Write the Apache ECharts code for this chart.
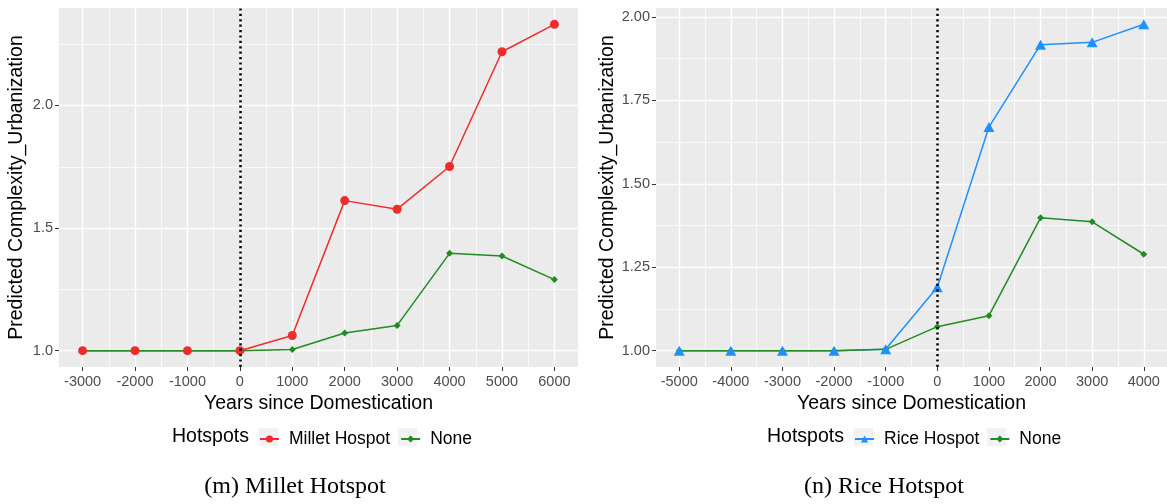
<!DOCTYPE html>
<html>
<head>
<meta charset="utf-8">
<script src="https://cdn.jsdelivr.net/npm/echarts@6/dist/echarts.min.js"></script>
<style>
  html, body { margin: 0; background: #fff; }
  #chart { width: 1167px; height: 504px; }
</style>
</head>
<body>
<div id="chart"></div>
<script>
// (m) Millet hotspot
const milletYears = [-3000, -2000, -1000, 0, 1000, 2000, 3000, 4000, 5000, 6000];
const milletHotspot = [1.0, 1.0, 1.0, 1.0, 1.062, 1.612, 1.577, 1.751, 2.219, 2.331];
const milletNone = [1.0, 1.0, 1.0, 1.0, 1.005, 1.072, 1.103, 1.397, 1.386, 1.290];
const milletXTicks = [-3000, -2000, -1000, 0, 1000, 2000, 3000, 4000, 5000, 6000];
const milletYTicks = [1.0, 1.5, 2.0];

// (n) Rice hotspot
const riceYears = [-5000, -4000, -3000, -2000, -1000, 0, 1000, 2000, 3000, 4000];
const riceHotspot = [1.0, 1.0, 1.0, 1.0, 1.004, 1.19, 1.670, 1.917, 1.924, 1.978];
const riceNone = [1.0, 1.0, 1.0, 1.0, 1.004, 1.072, 1.105, 1.398, 1.386, 1.289];
const riceXTicks = [-5000, -4000, -3000, -2000, -1000, 0, 1000, 2000, 3000, 4000];
const riceYTicks = [1.0, 1.25, 1.5, 1.75, 2.0];

const FONT = "Liberation Sans";
const RED = "#EE2C2C", GREEN = "#228B22", BLUE = "#1E90FF";

// ggplot style: 5% expansion on each side
function range(vals) {
  const lo = Math.min(...vals), hi = Math.max(...vals);
  const pad = (hi - lo) * 0.05;
  return [lo - pad, hi + pad];
}

// minor breaks halfway between majors, kept if inside the range
function minors(ticks, r) {
  const step = ticks[1] - ticks[0];
  const out = [];
  for (let i = -1; i < ticks.length; i++) {
    const v = (i < 0 ? ticks[0] - step : ticks[i]) + step / 2;
    if (v > r[0] && v < r[1]) out.push(v);
  }
  return out;
}

function xAxes(grid, ticks, years) {
  const r = range(years);
  const minor = minors(ticks, r);
  return [{
    type: "value", gridIndex: grid, min: r[0], max: r[1],
    name: "Years since Domestication", nameLocation: "middle", nameGap: 21,
    nameTextStyle: { fontFamily: FONT, fontSize: 19.5, color: "#000" },
    axisLine: { show: false, onZero: false },
    axisTick: { show: true, length: 4, customValues: ticks, lineStyle: { color: "#333", width: 1 } },
    axisLabel: { customValues: ticks, fontFamily: FONT, fontSize: 14.5, color: "#4D4D4D", margin: 7,
      formatter: v => String(v) },
    splitLine: { show: true, lineStyle: { color: "#fff", width: 1.4 } }
  }, {
    type: "value", gridIndex: grid, min: r[0], max: r[1], position: "top",
    axisLine: { show: false, onZero: false },
    axisTick: { show: false, customValues: minor },
    axisLabel: { show: false, customValues: minor },
    splitLine: { show: true, lineStyle: { color: "#fff", width: 0.7 } }
  }];
}

function yAxes(grid, ticks, vals, digits) {
  const r = range(vals);
  const minor = minors(ticks, r);
  return [{
    type: "value", gridIndex: grid, min: r[0], max: r[1],
    name: "Predicted Complexity_Urbanization", nameLocation: "middle", nameGap: 32,
    nameTextStyle: { fontFamily: FONT, fontSize: 19.5, color: "#000" },
    axisLine: { show: false, onZero: false },
    axisTick: { show: true, length: 4, customValues: ticks, lineStyle: { color: "#333", width: 1 } },
    axisLabel: { customValues: ticks, fontFamily: FONT, fontSize: 14.5, color: "#4D4D4D", margin: 6,
      formatter: v => v.toFixed(digits) },
    splitLine: { show: true, lineStyle: { color: "#fff", width: 1.4 } }
  }, {
    type: "value", gridIndex: grid, min: r[0], max: r[1], position: "right",
    axisLine: { show: false, onZero: false },
    axisTick: { show: false, customValues: minor },
    axisLabel: { show: false, customValues: minor },
    splitLine: { show: true, lineStyle: { color: "#fff", width: 0.7 } }
  }];
}

function pairs(xs, ys) {
  return xs.map((x, i) => [x, ys[i]]);
}

function line(name, xs, ys, color, symbol, size, ax) {
  return {
    name: name, type: "line", xAxisIndex: ax.x, yAxisIndex: ax.y,
    data: pairs(xs, ys), color: color, symbol: symbol, symbolSize: size,
    showSymbol: false, lineStyle: { width: 1.5 }, z: 2, silent: true
  };
}

function points(name, xs, ys, color, symbol, size, ax) {
  return {
    name: name, type: "scatter", xAxisIndex: ax.x, yAxisIndex: ax.y,
    data: pairs(xs, ys), color: color, symbol: symbol, symbolSize: size,
    itemStyle: { opacity: 1 }, z: 3, silent: true
  };
}

function vline(ax) {
  return {
    type: "line", xAxisIndex: ax.x, yAxisIndex: ax.y, data: [], z: 1,
    markLine: {
      silent: true, symbol: "none", label: { show: false },
      lineStyle: { color: "#000", type: [2.2, 3.2], width: 2.5 },
      data: [{ xAxis: 0 }]
    }
  };
}

// light grey legend key backgrounds, as ggplot draws them
function keyBox(x) {
  return { type: "rect", left: x, top: 428, z: -1, shape: { width: 19, height: 18 },
    style: { fill: "#F2F2F2" } };
}

const L = { x: 0, y: 0 }, R = { x: 2, y: 2 };

const chart = echarts.init(document.getElementById("chart"));
chart.setOption({
  animation: false,
  textStyle: { fontFamily: FONT },
  grid: [
    { left: 59, top: 8, width: 519, height: 359, show: true, backgroundColor: "#EBEBEB", borderWidth: 0 },
    { left: 656, top: 8, width: 511, height: 359, show: true, backgroundColor: "#EBEBEB", borderWidth: 0 }
  ],
  xAxis: [...xAxes(0, milletXTicks, milletYears), ...xAxes(1, riceXTicks, riceYears)],
  yAxis: [...yAxes(0, milletYTicks, milletHotspot.concat(milletNone), 1),
          ...yAxes(1, riceYTicks, riceHotspot.concat(riceNone), 2)],
  title: [
    { text: "Hotspots", left: 172, top: 427, padding: 0,
      textStyle: { fontFamily: FONT, fontSize: 19.5, fontWeight: "normal", color: "#000" } },
    { text: "Hotspots", left: 767, top: 427, padding: 0,
      textStyle: { fontFamily: FONT, fontSize: 19.5, fontWeight: "normal", color: "#000" } },
    { text: "(m) Millet Hotspot", left: 295, textAlign: "center", top: 475, padding: 0,
      textStyle: { fontFamily: "Liberation Serif", fontSize: 24, fontWeight: "normal", color: "#000" } },
    { text: "(n) Rice Hotspot", left: 884, textAlign: "center", top: 475, padding: 0,
      textStyle: { fontFamily: "Liberation Serif", fontSize: 24, fontWeight: "normal", color: "#000" } }
  ],
  graphic: [keyBox(259), keyBox(398), keyBox(854), keyBox(987)],
  legend: [
    { data: ["Millet Hospot", "None"], left: 259, top: 430, padding: 0, itemGap: 10,
      itemWidth: 19, itemHeight: 9, selectedMode: false,
      textStyle: { fontFamily: FONT, fontSize: 17.5, color: "#000", padding: [0, 0, 0, 5] } },
    { data: ["Rice Hospot", "None "], left: 854, top: 430, padding: 0, itemGap: 10,
      itemWidth: 19, itemHeight: 9, selectedMode: false,
      textStyle: { fontFamily: FONT, fontSize: 17.5, color: "#000", padding: [0, 0, 0, 5] },
      formatter: n => n.trim() }
  ],
  series: [
    vline(L),
    line("Millet Hospot", milletYears, milletHotspot, RED, "circle", 9, L),
    line("None", milletYears, milletNone, GREEN, "diamond", 7, L),
    points("None", milletYears, milletNone, GREEN, "diamond", 7, L),
    points("Millet Hospot", milletYears, milletHotspot, RED, "circle", 9, L),
    vline(R),
    line("Rice Hospot", riceYears, riceHotspot, BLUE, "triangle", [11, 10], R),
    line("None ", riceYears, riceNone, GREEN, "diamond", 7, R),
    points("None ", riceYears, riceNone, GREEN, "diamond", 7, R),
    points("Rice Hospot", riceYears, riceHotspot, BLUE, "triangle", [11, 10], R)
  ]
});
</script>
</body>
</html>
